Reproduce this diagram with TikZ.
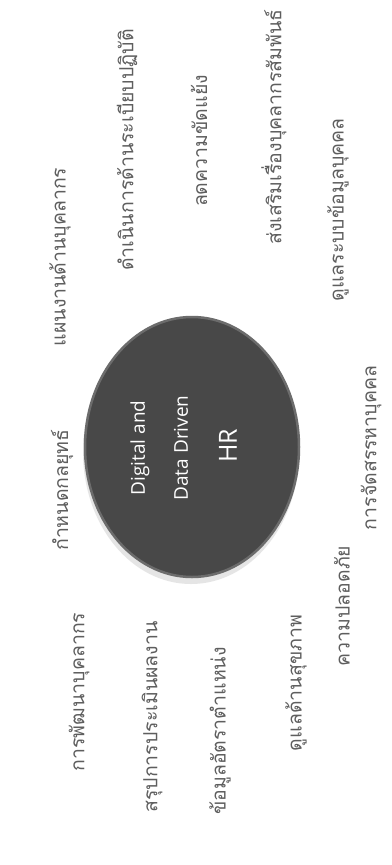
\documentclass[tikz,border=0pt]{standalone}
\usepackage{fontspec}
\newfontfamily\thaifont[Script=Thai]{Loma}
\newfontfamily\hubfont{Open Sans}
\usetikzlibrary{shapes.geometric}
\definecolor{labelgray}{HTML}{5E5E5E}
\definecolor{hubfill}{HTML}{484848}
\definecolor{hubedge}{HTML}{6C6C6C}
\begin{document}
\begin{tikzpicture}[x=1pt,y=-1pt,
  lbl/.style={rotate=90, font=\thaifont\fontsize{19.5}{22}\selectfont, text=labelgray, inner sep=0pt},
  hubtxt/.style={rotate=90, font=\hubfont\fontsize{19}{22}\selectfont, text=white, inner sep=0pt},
  hubbig/.style={rotate=90, font=\hubfont\fontsize{25}{28}\selectfont, text=white, inner sep=0pt}]
\useasboundingbox[fill=white] (0,0) rectangle (391,865);
% hub
\node (shadow) [ellipse, fill=black!10, minimum width=216pt, minimum height=264pt, inner sep=0pt] at (191,452) {};
\node (hub) [ellipse, fill=hubfill, draw=hubedge, line width=2.5pt, minimum width=214pt, minimum height=260pt, inner sep=0pt] at (192,447) {};
\node (h1) [hubtxt] at (140,448) {Digital and};
\node (h2) [hubtxt] at (181,448) {Data Driven};
\node (h3) [hubbig] at (228,446) {HR};
% upper labels
\node (a1) [lbl] at (60,257) {แผนงานด้านบุคลากร};
\node (a2) [lbl] at (127,150) {ดำเนินการด้านระเบียบปฏิบัติ};
\node (a3) [lbl] at (199,141) {ลดความขัดแย้ง};
\node (a4) [lbl] at (274,127) {ส่งเสริมเรื่องบุคลากรสัมพันธ์};
\node (a5) [lbl] at (338,210) {ดูแลระบบข้อมูลบุคคล};
% middle labels
\node (b1) [lbl] at (62,490) {กำหนดกลยุทธ์};
\node (b2) [lbl] at (371,448) {การจัดสรรหาบุคคล};
% lower labels
\node (c1) [lbl] at (342,606) {ความปลอดภัย};
\node (c2) [lbl] at (296,683) {ดูแลด้านสุขภาพ};
\node (c3) [lbl] at (220,731) {ข้อมูลอัตราตำแหน่ง};
\node (c4) [lbl] at (152,717) {สรุปการประเมินผลงาน};
\node (c5) [lbl] at (79,692) {การพัฒนาบุคลากร};
\end{tikzpicture}
\end{document}
